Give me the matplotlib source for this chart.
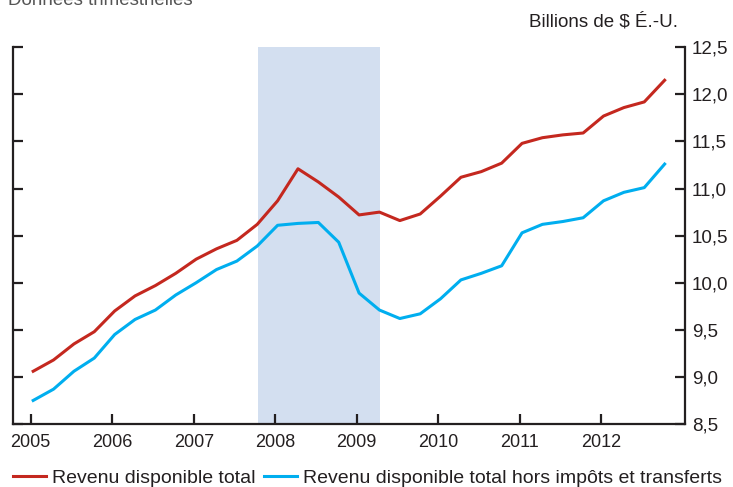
import numpy as np
import matplotlib.pyplot as plt
from matplotlib.ticker import FuncFormatter

plt.rcParams["font.family"] = ["Liberation Sans", "DejaVu Sans"]

# * Donnees trimestrielles 2005T1 - 2012T4 (billions de $ E.-U.)
annees = [2005, 2006, 2007, 2008, 2009, 2010, 2011, 2012]
revenu_total = [
    9.06, 9.18, 9.35, 9.48,
    9.70, 9.86, 9.97, 10.10,
    10.25, 10.36, 10.45, 10.62,
    10.87, 11.21, 11.07, 10.91,
    10.72, 10.75, 10.66, 10.73,
    10.92, 11.12, 11.18, 11.27,
    11.48, 11.54, 11.57, 11.59,
    11.77, 11.86, 11.92, 12.15,
]
revenu_hors = [
    8.75, 8.87, 9.06, 9.20,
    9.45, 9.61, 9.71, 9.87,
    10.00, 10.14, 10.23, 10.39,
    10.61, 10.63, 10.64, 10.43,
    9.89, 9.71, 9.62, 9.67,
    9.83, 10.03, 10.10, 10.18,
    10.53, 10.62, 10.65, 10.69,
    10.87, 10.96, 11.01, 11.26,
]
recession = (2007.795, 2009.286)

rouge = "#c4281f"
bleu = "#00aeef"
gris = "#231f20"

x = annees[0] + 0.03 + 0.25 * np.arange(len(revenu_total))

fig = plt.figure(figsize=(7.33, 4.87), dpi=100)
ax = fig.add_axes([13.3 / 733, 63 / 487, (685 - 13.3) / 733, (424 - 47.3) / 487])

ax.axvspan(*recession, color="#d3dff0", lw=0, zorder=0)
l1, = ax.plot(x, revenu_total, color=rouge, lw=2.2, label="Revenu disponible total")
l2, = ax.plot(x, revenu_hors, color=bleu, lw=2.2,
              label="Revenu disponible total hors impôts et transferts")

ax.set_xlim(2004.786, 2013.03)
ax.set_ylim(8.5, 12.5)
ax.set_xticks(annees)
ax.set_yticks(np.arange(8.5, 12.51, 0.5))
ax.yaxis.set_major_formatter(FuncFormatter(lambda v, p: f"{v:.1f}".replace(".", ",")))

ax.spines["top"].set_visible(False)
for s in ["left", "right", "bottom"]:
    ax.spines[s].set_linewidth(1.6)
    ax.spines[s].set_color(gris)

ax.tick_params(axis="y", left=True, right=True, labelleft=False, labelright=True,
               direction="in", length=7, width=1.6, color=gris, labelsize=13.5,
               labelcolor=gris, pad=5)
ax.tick_params(axis="x", direction="in", length=7, width=1.6, color=gris,
               labelsize=13, labelcolor=gris, pad=7)

fig.text(8 / 733, 1 - 5 / 487, "Données trimestrielles", fontsize=13.5, color="#555555",
         ha="left", va="baseline")
fig.text(678 / 733, 1 - 26 / 487, "Billions de $ É.-U.", fontsize=13.5, color=gris,
         ha="right", va="baseline")

fig.legend(handles=[l1, l2], loc="lower left", bbox_to_anchor=(-0.006, -0.035), ncol=2,
           frameon=False, fontsize=14, handlelength=1.7, handletextpad=0.3,
           columnspacing=0.45, labelcolor=gris)

fig.savefig("out.png", dpi=100)
